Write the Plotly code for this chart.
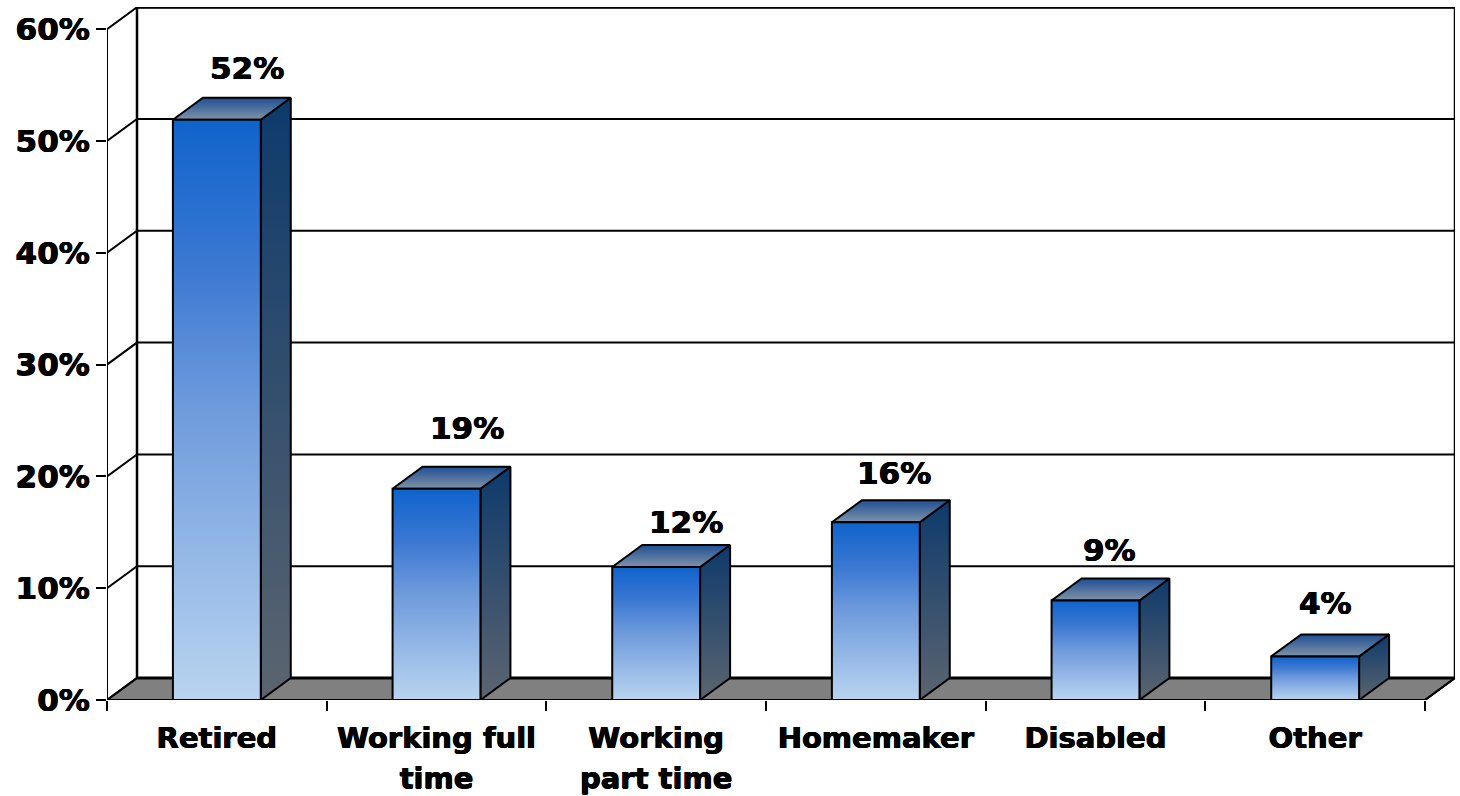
import plotly.graph_objects as go

# ---- data
categories = ["Retired", "Working full<br>time", "Working<br>part time", "Homemaker", "Disabled", "Other"]
values = [51.9, 18.9, 11.9, 15.9, 8.9, 3.9]
value_labels = ["52%", "19%", "12%", "16%", "9%", "4%"]
y_ticks = [0, 10, 20, 30, 40, 50, 60]
y_tick_labels = ["0%", "10%", "20%", "30%", "40%", "50%", "60%"]

# ---- style / geometry
W, H = 1460, 796
L, R, T, B = 107, 1455, 7, 700
PX_X = (1425 - 107) / 6          # pixels per category
PX_Y = 11.18                     # pixels per percentage point
DX = 30 / PX_X                   # depth of the 3-D box, in axis units
DY = 22 / PX_Y
BAR_START, BAR_W = 0.30, 0.40
label_dx = [0, 0, 0, -12, -16, -20]
label_dy = [30, 39, 23, 27, 29, 31]
SHADOW = "0.5px 0 0 black, -0.5px 0 0 black, 0 0.3px 0 black"
XFONT = dict(family="DejaVu Sans", size=31.5, color="black", weight=700, shadow=SHADOW)
VFONT = dict(family="DejaVu Sans", size=31, color="black", weight=700, shadow=SHADOW)
FRONT = [[0, "#b9d4f0"], [0.5, "#6f9bdc"], [0.75, "#3b78d2"], [1, "#0f63cc"]]
SIDE = [[0, "#5c6570"], [1, "#0d3a6c"]]
TOP = [[0, "#8093a8"], [1, "#1f4f94"]]

fig = go.Figure()


def line(xs, ys, width=2, color="black"):
    fig.add_trace(go.Scatter(x=xs, y=ys, mode="lines", cliponaxis=False, hoverinfo="skip",
                             line=dict(color=color, width=width), showlegend=False))


def face(xs, ys, scale=None, fill=None):
    kw = dict(fillgradient=dict(type="vertical", colorscale=scale)) if scale else dict(fillcolor=fill)
    fig.add_trace(go.Scatter(x=xs + xs[:1], y=ys + ys[:1], mode="lines", fill="toself", cliponaxis=False,
                             hoverinfo="skip", showlegend=False,
                             line=dict(color="black", width=2), **kw))


n = len(categories)
# floor
face([0, DX, n + DX, n], [0, DY, DY, 0], fill="#808080")
# walls, grid lines
gx, gy = [], []
for t in y_ticks:
    gx += [0, DX, n + DX, None]
    gy += [t, t + DY, t + DY, None]
line(gx, gy, 2)
line([0, 0], [0, y_ticks[-1]], 2)
line([DX, DX], [DY, y_ticks[-1] + DY], 2.5)
line([n + DX, n + DX], [DY, y_ticks[-1] + DY], 2.5)
line([DX, n + DX], [y_ticks[-1] + DY] * 2, 3)
line([DX, n + DX], [DY, DY], 3)
line([0, n, n + DX], [0, 0, DY], 2)
# bars
for i, v in enumerate(values):
    x0 = i + BAR_START
    x1 = x0 + BAR_W
    face([x1, x1 + DX, x1 + DX, x1], [0, DY, v + DY, v], scale=SIDE)
    face([x0, x1, x1 + DX, x0 + DX], [v, v, v + DY, v + DY], scale=TOP)
    face([x0, x1, x1, x0], [0, 0, v, v], scale=FRONT)

for i, v in enumerate(values):
    fig.add_annotation(x=i + 0.5 + DX, y=v + DY, text=value_labels[i], showarrow=False, font=VFONT,
                       xshift=label_dx[i], yshift=label_dy[i], xanchor="center", yanchor="middle")

cat_text = ["<br>".join('<span style="font-size:29px">%s</span>' % p for p in c.split("<br>")) for c in categories]

fig.update_layout(
    width=W, height=H, margin=dict(l=L, r=W - R, t=T, b=H - B, pad=0, autoexpand=False),
    paper_bgcolor="white", plot_bgcolor="white", showlegend=False,
    xaxis=dict(range=[0, (R - L) / PX_X], tickmode="array", tickvals=[i + 0.5 for i in range(n)],
               ticktext=cat_text, ticks="", showgrid=False, zeroline=False, showline=False,
               tickfont=XFONT, ticklabelstandoff=15, automargin=False,
               minor=dict(tickmode="array", tickvals=list(range(n + 1)), ticks="outside", ticklen=10,
                          tickwidth=2, tickcolor="black", showgrid=False)),
    yaxis=dict(range=[0, (B - T) / PX_Y], tickmode="array", tickvals=y_ticks, ticktext=y_tick_labels,
               ticks="outside", ticklen=10, tickwidth=2, tickcolor="black", showgrid=False,
               zeroline=False, showline=False, tickfont=VFONT, automargin=False),
)
fig.write_html("out.html", post_script="document.body.style.margin='0';", config={"displayModeBar": False})
